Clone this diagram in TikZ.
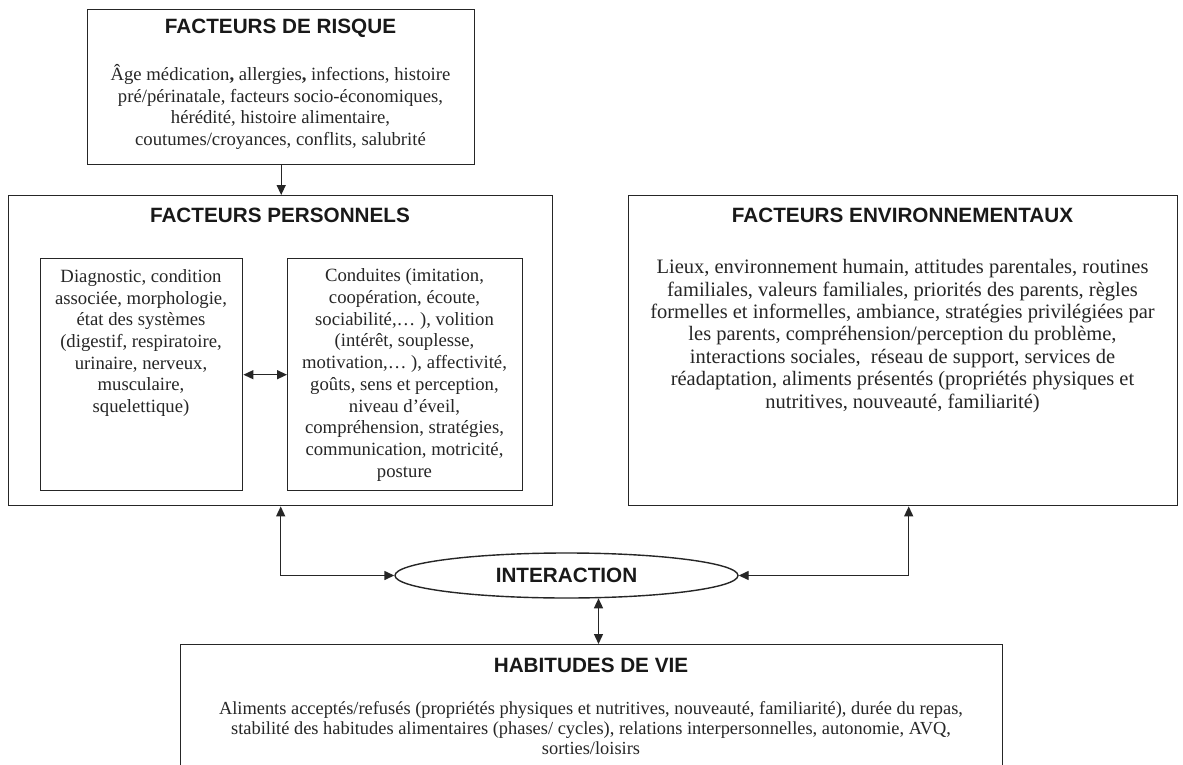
\documentclass[tikz,border=0pt]{standalone}
\usepackage{fontspec}
\setmainfont{Liberation Serif}
\setsansfont{Liberation Sans}
\usetikzlibrary{arrows.meta,shapes.geometric}
\begin{document}
\begin{tikzpicture}[x=1pt,y=-1pt,
  box/.style={draw=black!85, line width=1.4pt, inner sep=0pt, anchor=north west},
  ttl/.style={font=\sffamily\bfseries\fontsize{20.7}{24}\selectfont, text=black!90, inner sep=0pt},
  body/.style={font=\fontsize{18.7}{21.7}\selectfont, align=center, text=black!85, inner sep=0pt},
  arr/.style={draw=black!85, line width=1.4pt, -{Triangle[length=10pt,width=9pt]}},
  darr/.style={draw=black!85, line width=1.4pt, {Triangle[length=10pt,width=9pt]}-{Triangle[length=10pt,width=9pt]}}]
\clip (0,0) rectangle (1183,765);
\fill[white] (0,0) rectangle (1183,765);
% boxes
\node[box, minimum width=387pt, minimum height=155pt] (risque) at (87,9) {};
\node[box, minimum width=544pt, minimum height=310pt] (pers) at (8,195) {};
\node[box, minimum width=202pt, minimum height=232pt] (inL) at (40,258) {};
\node[box, minimum width=235pt, minimum height=232pt] (inR) at (287,258) {};
\node[box, minimum width=549pt, minimum height=310pt] (env) at (628,195) {};
\node[box, minimum width=822pt, minimum height=160pt] (hab) at (180,644) {};
\node[draw=black!85, line width=1.4pt, ellipse, minimum width=343pt, minimum height=45pt, inner sep=0pt,
  font=\sffamily\bfseries\fontsize{20.7}{24}\selectfont, text=black!90] (inter) at (566.5,575.5) {INTERACTION};
% texts
\node[ttl] (tRisque) at (280.5,28) {FACTEURS DE RISQUE};
\node[body] (bRisque) at (280.5,107) {Âge médication\textbf{,} allergies\textbf{,} infections, histoire\\
pré/périnatale, facteurs socio-économiques,\\
hérédité, histoire alimentaire,\\
coutumes/croyances, conflits, salubrité};
\node[ttl] (tPers) at (280,215) {FACTEURS PERSONNELS};
\node[body] (bInL) at (141,343) {Diagnostic, condition\\
associée, morphologie,\\
état des systèmes\\
(digestif, respiratoire,\\
urinaire, nerveux,\\
musculaire,\\
squelettique)};
\node[body] (bInR) at (404.5,375) {Conduites (imitation,\\
coopération, écoute,\\
sociabilité,… ), volition\\
(intérêt, souplesse,\\
motivation,… ), affectivité,\\
goûts, sens et perception,\\
niveau d’éveil,\\
compréhension, stratégies,\\
communication, motricité,\\
posture};
\node[ttl] (tEnv) at (902.5,215) {FACTEURS ENVIRONNEMENTAUX};
\node[body, font=\fontsize{20.5}{22.4}\selectfont] (bEnv) at (902.5,336) {Lieux, environnement humain, attitudes parentales, routines\\
familiales, valeurs familiales, priorités des parents, règles\\
formelles et informelles, ambiance, stratégies privilégiées par\\
les parents, compréhension/perception du problème,\\
interactions sociales,\ \ réseau de support, services de\\
réadaptation, aliments présentés (propriétés physiques et\\
nutritives, nouveauté, familiarité)};
\node[ttl] (tHab) at (591,665) {HABITUDES DE VIE};
\node[body, font=\fontsize{18.4}{20}\selectfont] (bHab) at (591,728) {Aliments acceptés/refusés (propriétés physiques et nutritives, nouveauté, familiarité), durée du repas,\\
stabilité des habitudes alimentaires (phases/ cycles), relations interpersonnelles, autonomie, AVQ,\\
sorties/loisirs};
% connectors
\draw[arr] (risque.south) -- (risque.south |- pers.north);
\draw[darr] (inL.east) -- (inR.west);
\draw[darr] (pers.south) |- (inter.west);
\coordinate (envFoot) at ([xshift=5.5pt]env.south);
\draw[darr] (envFoot) |- (inter.east);
\coordinate (interFoot) at ([xshift=32pt,yshift=0.4pt]inter.south);
\draw[darr] (interFoot) -- (interFoot |- hab.north);
\end{tikzpicture}
\end{document}
